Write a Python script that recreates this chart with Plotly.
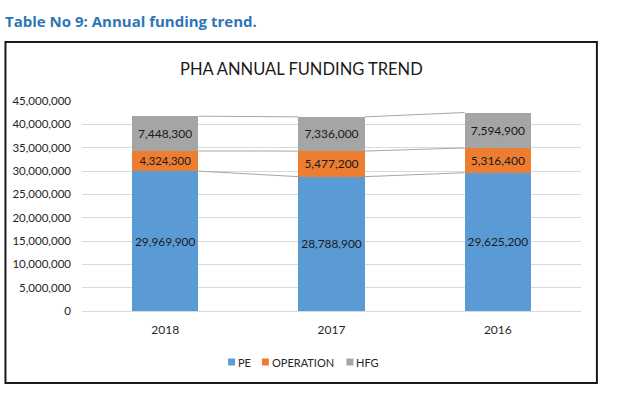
import plotly.graph_objects as go

years = ["2018", "2017", "2016"]
pe = [29969900, 28788900, 29625200]
operation = [4324300, 5477200, 5316400]
hfg = [7448300, 7336000, 7594900]
series_names = ["PE", "OPERATION", "HFG"]
colors = ["#5B9BD5", "#ED7D31", "#A5A5A5"]

W, H = 635, 398
PL, PR, PT, PB = 79, 581, 101, 311  # plot area in px


def px_x(x):
    return (x - PL) / (PR - PL)


def px_y(y):
    return (PB - y) / (PB - PT)


FONT = "Lato, 'Open Sans', sans-serif"
xs = list(range(len(years)))
bw = 0.4

fig = go.Figure()
series = [pe, operation, hfg]
for name, vals, col in zip(series_names, series, colors):
    fig.add_trace(go.Bar(
        x=xs, y=vals, name=name, width=bw,
        marker=dict(color=col, line=dict(width=0)),
        text=[f"{v:,}" for v in vals], textposition="inside",
        insidetextanchor="middle", textangle=0,
        textfont=dict(family=FONT, size=12, color="#1a1a1a"),
        showlegend=False,
    ))

# series lines (Excel-style) connecting tops of each stacked segment
cum = [0, 0, 0]
for vals in series:
    cum = [c + v for c, v in zip(cum, vals)]
    lx, ly = [], []
    for i in range(len(years) - 1):
        lx += [xs[i] + bw / 2, xs[i + 1] - bw / 2, None]
        ly += [cum[i], cum[i + 1], None]
    fig.add_trace(go.Scatter(x=lx, y=ly, mode="lines", showlegend=False,
                             hoverinfo="skip",
                             line=dict(color="#A6A6A6", width=1)))

fig.update_layout(
    barmode="stack",
    width=W, height=H,
    margin=dict(l=PL, r=W - PR, t=PT, b=H - PB, pad=0),
    paper_bgcolor="white", plot_bgcolor="white",
    font=dict(family=FONT, color="#262626"),
    xaxis=dict(
        range=[-0.5, len(years) - 0.5],
        tickvals=xs, ticktext=years,
        showgrid=False, zeroline=False, showline=False,
        ticks="", ticklabelstandoff=10,
        tickfont=dict(family=FONT, size=12, color="#262626"),
    ),
    yaxis=dict(
        range=[0, 45000000], dtick=5000000, tickformat=",d",
        showgrid=True, gridcolor="#D9D9D9", gridwidth=1,
        zeroline=True, zerolinecolor="#D9D9D9", zerolinewidth=1,
        showline=False, ticks="", ticklabelstandoff=10,
        tickfont=dict(family=FONT, size=11.5, color="#262626"),
    ),
    showlegend=False,
)

# chart border box
fig.add_shape(type="rect", xref="paper", yref="paper",
              x0=px_x(2), x1=px_x(597), y0=px_y(383), y1=px_y(42),
              line=dict(color="#1a1a1a", width=2), fillcolor="rgba(0,0,0,0)",
              layer="below")

# legend (Excel-style compact)
leg_sq_x = [226, 260, 345]
leg_txt_x = [235, 269, 354]
leg_y = 362
for name, col, sx, tx in zip(series_names, colors, leg_sq_x, leg_txt_x):
    fig.add_shape(type="rect", xref="paper", yref="paper",
                  x0=px_x(sx), x1=px_x(sx + 7), y0=px_y(leg_y + 3.5),
                  y1=px_y(leg_y - 3.5), fillcolor=col, line=dict(width=0))
    fig.add_annotation(text=name, xref="paper", yref="paper",
                       x=px_x(tx), y=px_y(leg_y), xanchor="left",
                       yanchor="middle", showarrow=False, borderpad=0,
                       font=dict(family=FONT, size=11, color="#262626"))

# chart title
fig.add_annotation(text="PHA ANNUAL FUNDING TREND", xref="paper", yref="paper",
                   x=px_x(300), y=px_y(69), xanchor="center", yanchor="middle",
                   showarrow=False,
                   font=dict(family=FONT, size=16.5, color="#1a1a1a"))

# outer caption
fig.add_annotation(text="<b>Table No 9: Annual funding trend.</b>",
                   xref="paper", yref="paper",
                   x=px_x(0), y=px_y(21), xanchor="left", yanchor="middle",
                   showarrow=False,
                   font=dict(family="'Open Sans', sans-serif", size=15,
                             color="#2E75B6"))

fig.write_html("out.html", config={"displayModeBar": False})
with open("out.html", encoding="utf-8") as f:
    html = f.read()
html = html.replace("<head>", "<head><style>html,body{margin:0;padding:0;}</style>", 1)
with open("out.html", "w", encoding="utf-8") as f:
    f.write(html)
